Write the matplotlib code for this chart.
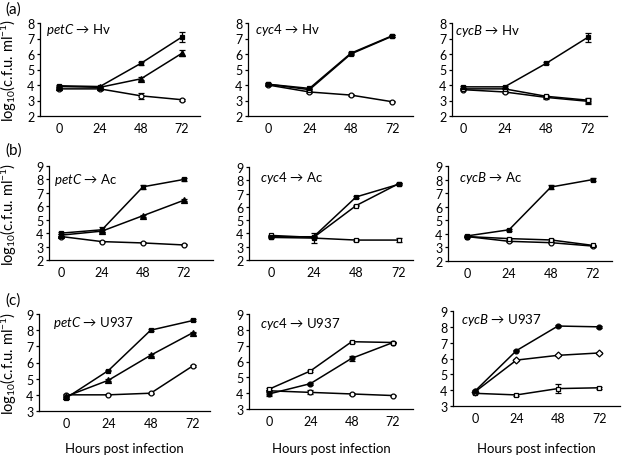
import matplotlib
matplotlib.use('Agg')
import matplotlib.pyplot as plt

plt.rcParams['font.family'] = ['Lato', 'DejaVu Sans']
plt.rcParams['mathtext.fontset'] = 'custom'
plt.rcParams['mathtext.rm'] = 'Lato'
plt.rcParams['mathtext.it'] = 'Lato:italic'

hours = [0, 24, 48, 72]

# (a) Hv
hv_petC = [[3.95, 3.9, 5.4, 7.1], [3.9, 3.85, 4.4, 6.05], [3.75, 3.75, 3.3, 3.05]]
hv_petC_err = [[0.05, 0.05, 0.08, 0.3], [0.05, 0.05, 0.1, 0.2], [0.05, 0.05, 0.2, 0.07]]
hv_cyc4 = [[4.05, 3.78, 6.05, 7.18], [4.05, 3.7, 6.0, 7.15], [4.0, 3.55, 3.35, 2.92]]
hv_cyc4_err = [[0.05, 0.05, 0.06, 0.07], [0.05, 0.05, 0.05, 0.05], [0.04, 0.05, 0.05, 0.03]]
hv_cycB = [[3.88, 3.88, 5.4, 7.08], [3.75, 3.75, 3.27, 3.02], [3.7, 3.55, 3.2, 2.95]]
hv_cycB_err = [[0.05, 0.05, 0.06, 0.3], [0.04, 0.04, 0.08, 0.15], [0.04, 0.04, 0.08, 0.15]]

# (b) Ac
ac_petC = [[4.0, 4.25, 7.45, 8.0], [3.85, 4.15, 5.3, 6.45], [3.75, 3.37, 3.27, 3.12]]
ac_petC_err = [[0.05, 0.2, 0.15, 0.1], [0.05, 0.1, 0.07, 0.06], [0.04, 0.04, 0.04, 0.04]]
ac_cyc4 = [[3.75, 3.75, 6.75, 7.7], [3.85, 3.7, 6.1, 7.75], [3.7, 3.65, 3.5, 3.5]]
ac_cyc4_err = [[0.05, 0.05, 0.06, 0.08], [0.05, 0.05, 0.06, 0.06], [0.05, 0.4, 0.06, 0.15]]
ac_cycB = [[3.85, 4.3, 7.45, 8.0], [3.8, 3.65, 3.55, 3.15], [3.8, 3.45, 3.35, 3.1]]
ac_cycB_err = [[0.05, 0.06, 0.12, 0.1], [0.04, 0.05, 0.05, 0.04], [0.04, 0.05, 0.05, 0.04]]

# (c) U937
u_petC = [[3.8, 5.5, 8.0, 8.6], [3.9, 4.9, 6.45, 7.85], [4.0, 4.0, 4.1, 5.8]]
u_petC_err = [[0.05, 0.05, 0.08, 0.06], [0.05, 0.05, 0.05, 0.05], [0.04, 0.04, 0.04, 0.05]]
u_cyc4 = [[4.25, 5.4, 7.25, 7.2], [3.95, 4.6, 6.2, 7.2], [4.15, 4.05, 3.95, 3.85]]
u_cyc4_err = [[0.05, 0.05, 0.05, 0.05], [0.15, 0.07, 0.15, 0.05], [0.04, 0.12, 0.04, 0.04]]
u_cycB = [[3.95, 6.5, 8.05, 8.0], [3.9, 5.9, 6.2, 6.35], [3.8, 3.7, 4.1, 4.15]]
u_cycB_err = [[0.05, 0.05, 0.04, 0.05], [0.04, 0.04, 0.04, 0.04], [0.05, 0.05, 0.3, 0.05]]

labels = [('petC', 'Hv'), ('cyc4', 'Hv'), ('cycB', 'Hv'),
          ('petC', 'Ac'), ('cyc4', 'Ac'), ('cycB', 'Ac'),
          ('petC', 'U937'), ('cyc4', 'U937'), ('cycB', 'U937')]
series = [hv_petC, hv_cyc4, hv_cycB, ac_petC, ac_cyc4, ac_cycB, u_petC, u_cyc4, u_cycB]
errors = [hv_petC_err, hv_cyc4_err, hv_cycB_err, ac_petC_err, ac_cyc4_err, ac_cycB_err,
          u_petC_err, u_cyc4_err, u_cycB_err]

# marker (shape, filled) per series
markers = [[('s', 1), ('^', 1), ('o', 0)],
           [('s', 1), ('s', 0), ('o', 0)],
           [('s', 1), ('s', 0), ('o', 0)],
           [('s', 1), ('^', 1), ('o', 0)],
           [('s', 1), ('s', 0), ('s', 0)],
           [('s', 1), ('s', 0), ('o', 0)],
           [('s', 1), ('^', 1), ('o', 0)],
           [('s', 0), ('o', 1), ('o', 0)],
           [('o', 1), ('D', 0), ('s', 0)]]

W, H = 624, 456
# pixel boxes: left, right, top, bottom
boxes = [(40, 200, 24, 117), (248, 413, 24, 117), (452, 607, 24, 117),
         (49, 213, 167, 261), (249, 413, 168, 261), (448, 612, 167, 262),
         (39, 210, 315, 412), (249, 413, 315, 410), (453, 620, 312, 407)]
xlims = [(-11, 82.5), (-11.6, 84), (-6.3, 83),
         (-7, 89), (-12.4, 80), (-11, 83),
         (-15.3, 81.6), (-11.6, 83.6), (-12.8, 84)]
ylims = [(2, 8)] * 3 + [(2, 9)] * 3 + [(3, 9)] * 3
text_pos = [(0.04, 0.94), (0.04, 0.94), (0.02, 0.93),
            (0.03, 0.86), (0.07, 0.89), (0.07, 0.88),
            (0.08, 0.92), (0.07, 0.91), (0.05, 0.92)]
# centre of the rotated y label, in pixels (x)
ylabel_px = [9, None, None, 9, None, None, 9, None, None]

fig = plt.figure(figsize=(W / 100, H / 100), dpi=100)

for i in range(9):
    l, r, t, b = boxes[i]
    ax = fig.add_axes([l / W, 1 - b / H, (r - l) / W, (b - t) / H])
    for j in range(3):
        m, filled = markers[i][j]
        ax.errorbar(hours, series[i][j], yerr=errors[i][j], color='black', lw=1.1,
                    marker=m, ms=3.5 if m != '^' else 4.5,
                    mfc='black' if filled else 'white', mec='black', mew=0.9,
                    capsize=2.5, elinewidth=0.9, capthick=0.9, zorder=3 - j)
    ax.set_xlim(xlims[i])
    ax.set_ylim(ylims[i])
    ax.set_xticks(hours)
    ax.set_yticks(range(ylims[i][0], ylims[i][1] + 1))
    for s in ['top', 'right']:
        ax.spines[s].set_visible(False)
    ax.spines['left'].set_linewidth(0.9)
    ax.spines['bottom'].set_linewidth(0.9)
    ax.tick_params(axis='x', length=0, pad=4.5, labelsize=9)
    ax.tick_params(axis='y', length=2.5, width=0.9, pad=1.5, labelsize=9)
    gene, host = labels[i]
    ax.text(text_pos[i][0], text_pos[i][1], r'$\mathit{' + gene + '}$ \u2192 ' + host,
            transform=ax.transAxes, fontsize=9.5, va='center', ha='left')
    if ylabel_px[i] is not None:
        fig.text(ylabel_px[i] / W, 1 - (t + b) / 2 / H, r'log$_{10}$(c.f.u. ml$^{-1}$)',
                 rotation=90, ha='center', va='center', fontsize=10.5)
    if i >= 6:
        fig.text((l + r) / 2 / W, 1 - 449 / H, 'Hours post infection',
                 ha='center', va='center', fontsize=9.5)

fig.text(5 / W, 1 - 10 / H, '(a)', fontsize=11, va='center')
fig.text(5 / W, 1 - 151 / H, '(b)', fontsize=11, va='center')
fig.text(5 / W, 1 - 301 / H, '(c)', fontsize=11, va='center')

fig.savefig('out.png', dpi=100)
